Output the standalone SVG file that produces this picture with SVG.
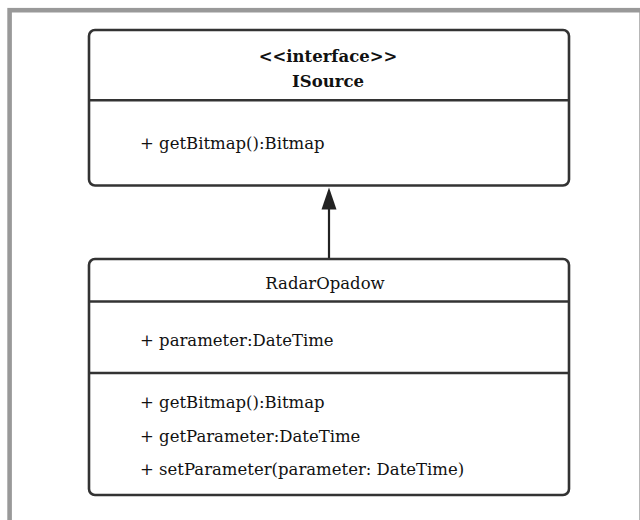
<svg xmlns="http://www.w3.org/2000/svg" width="640" height="520" viewBox="0 0 640 520">
<defs>
<style>
.box{fill:#fff;stroke:#333;stroke-width:2.6}
.div{stroke:#333;stroke-width:2.6}
.t{font-family:'DejaVu Serif',serif;font-size:16.5px;fill:#111}
.b{font-weight:bold}
.c{text-anchor:middle}
.conn{stroke:#222;stroke-width:2.2;fill:none}
</style>
</defs>
<rect width="640" height="520" fill="#fff"/>
<rect x="9.6" y="10.2" width="632" height="520" fill="none" stroke="#999" stroke-width="4.6"/>
<g id="connectors">
<line class="conn" x1="329" y1="259" x2="329" y2="209"/>
<path d="M329 187.5 L336.5 209.5 L321.5 209.5 Z" fill="#222"/>
</g>
<g id="ISource">
<rect class="box" x="89" y="30" width="480" height="155.5" rx="6"/>
<line class="div" x1="89" y1="100.3" x2="569" y2="100.3"/>
<text class="t b c" x="328" y="62">&lt;&lt;interface&gt;&gt;</text>
<text class="t b c" x="328" y="87">ISource</text>
<text class="t" x="140" y="149">+ getBitmap():Bitmap</text>
</g>
<g id="RadarOpadow">
<rect class="box" x="89" y="259" width="480" height="236" rx="6"/>
<line class="div" x1="89" y1="301.5" x2="569" y2="301.5"/>
<line class="div" x1="89" y1="373" x2="569" y2="373"/>
<text class="t c" x="325" y="289">RadarOpadow</text>
<text class="t" x="140" y="346">+ parameter:DateTime</text>
<text class="t" x="140" y="408">+ getBitmap():Bitmap</text>
<text class="t" x="140" y="442">+ getParameter:DateTime</text>
<text class="t" x="140" y="475">+ setParameter(parameter: DateTime)</text>
</g>
</svg>
